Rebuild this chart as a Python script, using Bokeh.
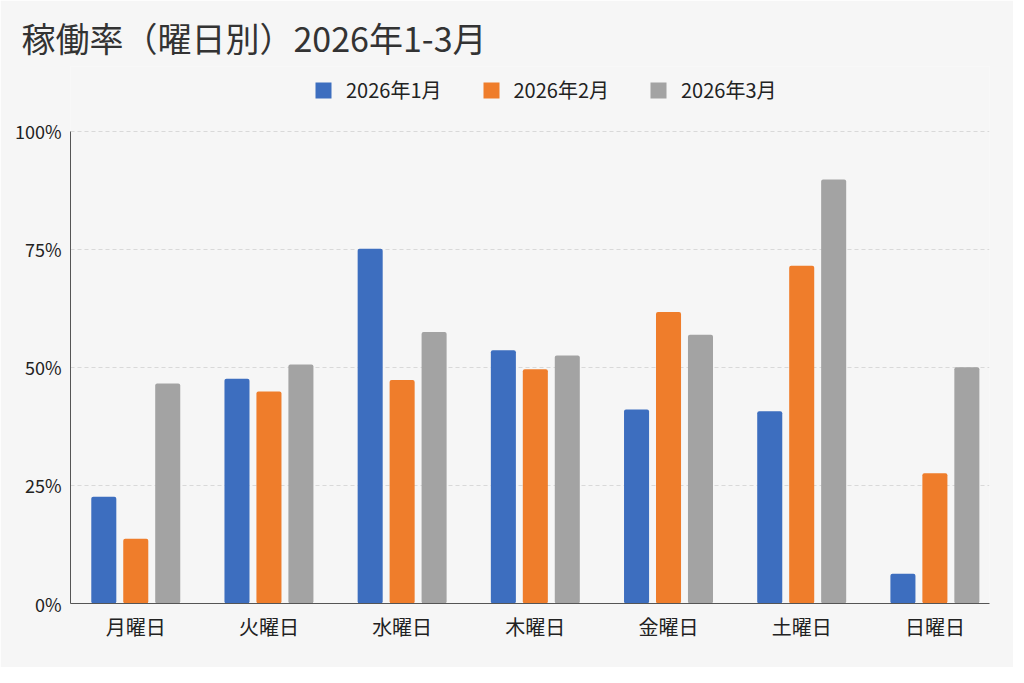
from bokeh.plotting import figure
from bokeh.models import ColumnDataSource, Range1d, FixedTicker, Legend, LegendItem
from bokeh.embed import file_html
from bokeh.resources import INLINE

days = ["月曜日", "火曜日", "水曜日", "木曜日", "金曜日", "土曜日", "日曜日"]
series_names = ["2026年1月", "2026年2月", "2026年3月"]
jan = [22.6, 47.6, 75.1, 53.6, 41.1, 40.7, 6.3]
feb = [13.7, 44.9, 47.3, 49.6, 61.7, 71.5, 27.6]
mar = [46.6, 50.6, 57.5, 52.5, 56.9, 89.8, 50.0]
y_ticks = [0, 25, 50, 75, 100]
y_tick_labels = ["0%", "25%", "50%", "75%", "100%"]
colors = ["#3d6ebf", "#ef7d2b", "#a3a3a3"]

FONT = "Noto Sans CJK JP"
BG = "#f6f6f6"

FH = 537
xs = list(range(len(days)))
p = figure(frame_width=919, frame_height=FH, output_backend="svg", toolbar_location=None,
           x_range=Range1d(-0.49, 6.41), y_range=Range1d(0, 113.7),
           min_border_left=70, min_border_right=24, min_border_top=66, min_border_bottom=64)
p.background_fill_color = BG
p.border_fill_color = BG
p.outline_line_color = None

offsets = [-0.24, 0.0, 0.24]
renderers = []
for vals, off, col in zip([jan, feb, mar], offsets, colors):
    src = ColumnDataSource(dict(x=[x + off for x in xs], top=vals))
    r = p.vbar(x="x", top="top", bottom=0, width=0.188, source=src,
               fill_color=col, line_color=None, border_radius=2)
    renderers.append(r)

legend = Legend(items=[LegendItem(label=n, renderers=[r]) for n, r in zip(series_names, renderers)],
                orientation="horizontal", location=(243, FH - 18 - 20),
                label_text_font=FONT, label_text_font_size="20px", label_text_color="#222222",
                glyph_width=20, glyph_height=20, label_standoff=13, spacing=39,
                background_fill_alpha=0, border_line_color=None, margin=0, padding=0)
p.add_layout(legend, "center")

p.title.text = "稼働率（曜日別）2026年1-3月"
p.title.text_font = FONT
p.title.text_font_size = "34px"
p.title.text_font_style = "normal"
p.title.text_color = "#333333"
p.title.align = "left"
p.title.offset = -49

p.xaxis.ticker = FixedTicker(ticks=xs)
p.xaxis.major_label_overrides = {i: d for i, d in enumerate(days)}
p.yaxis.ticker = FixedTicker(ticks=y_ticks)
p.yaxis.major_label_overrides = {t: l for t, l in zip(y_ticks, y_tick_labels)}
p.yaxis.bounds = (0, 100)

for ax in (p.xaxis, p.yaxis):
    ax.major_tick_line_color = None
    ax.minor_tick_line_color = None
    ax.axis_line_color = "#555555"
    ax.axis_line_width = 1
    ax.major_label_text_font = FONT
    ax.major_label_text_color = "#222222"
p.xaxis.major_label_text_font_size = "20px"
p.xaxis.major_label_standoff = 2
p.yaxis.major_label_text_font_size = "18px"
p.yaxis.major_label_standoff = 3

p.xgrid.grid_line_color = None
p.ygrid.grid_line_color = "#d9d9d9"
p.ygrid.grid_line_dash = "4 3"
p.ygrid.grid_line_width = 1

open("out.html", "w").write(file_html(p, INLINE))
